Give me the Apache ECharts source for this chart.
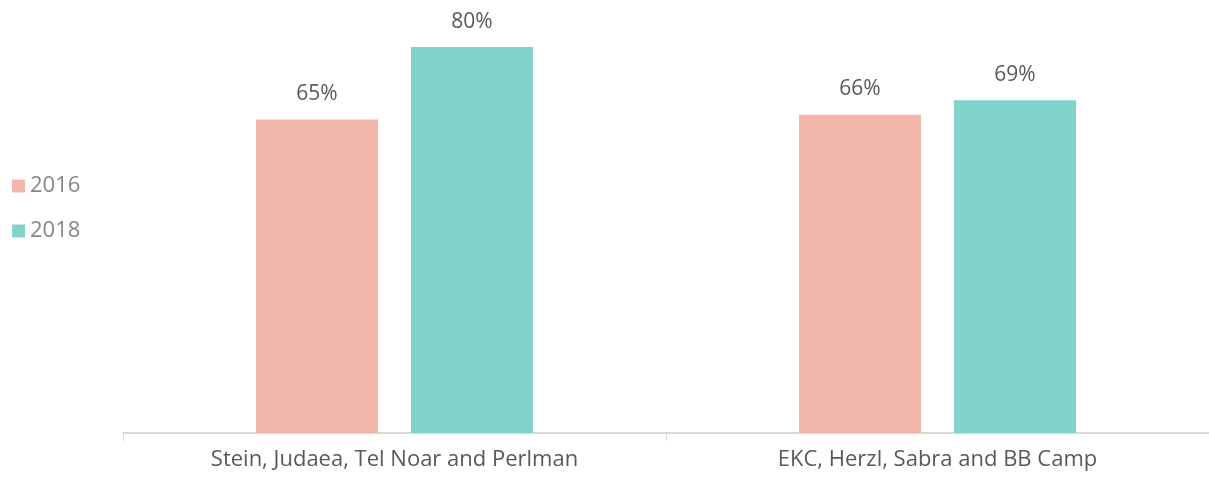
<!DOCTYPE html>
<html>
<head>
<meta charset="utf-8">
<script src="https://cdn.jsdelivr.net/npm/echarts@6/dist/echarts.min.js"></script>
<style>
  html, body { margin: 0; padding: 0; background: #fff; }
  #chart { width: 1209px; height: 477px; }
</style>
</head>
<body>
<div id="chart"></div>
<script>
// camp groups on the x axis
var categories = ['Stein, Judaea, Tel Noar and Perlman', 'EKC, Herzl, Sabra and BB Camp'];
// share per year (fractions)
var values2016 = [0.65, 0.66];
var values2018 = [0.80, 0.69];

var chart = echarts.init(document.getElementById('chart'));

var fontName = '"Open Sans", Lato, sans-serif';

function pct(p) {
    return Math.round(p.value * 100) + '%';
}

chart.setOption({
    animation: false,
    textStyle: { fontFamily: fontName },
    legend: {
        orient: 'vertical',
        left: 7,
        top: 170,
        itemWidth: 13,
        itemHeight: 13,
        itemGap: 23,
        icon: 'rect',
        textStyle: { fontSize: 22, color: '#8a8580', fontFamily: fontName },
        data: ['2016', '2018']
    },
    grid: {
        left: 123,
        right: -3,
        top: 23,
        bottom: 44
    },
    xAxis: {
        type: 'category',
        data: categories,
        axisLine: { lineStyle: { color: '#d9d9d9', width: 2 } },
        axisTick: { show: true, length: 8, lineStyle: { color: '#d9d9d9' } },
        axisLabel: { fontSize: 22, color: '#595959', margin: 16, fontFamily: fontName }
    },
    yAxis: {
        type: 'value',
        min: 0,
        max: 0.85,
        show: false,
        splitLine: { show: false }
    },
    series: [
        {
            name: '2016',
            type: 'bar',
            data: values2016,
            barWidth: 122,
            barGap: '27%',
            itemStyle: { color: '#f2b5aa' },
            label: {
                show: true,
                position: 'top',
                distance: 15,
                fontSize: 21,
                color: '#595959',
                fontFamily: fontName,
                formatter: pct
            }
        },
        {
            name: '2018',
            type: 'bar',
            data: values2018,
            barWidth: 122,
            itemStyle: { color: '#82d3cc' },
            label: {
                show: true,
                position: 'top',
                distance: 15,
                fontSize: 21,
                color: '#595959',
                fontFamily: fontName,
                formatter: pct
            }
        }
    ]
});
</script>
</body>
</html>
